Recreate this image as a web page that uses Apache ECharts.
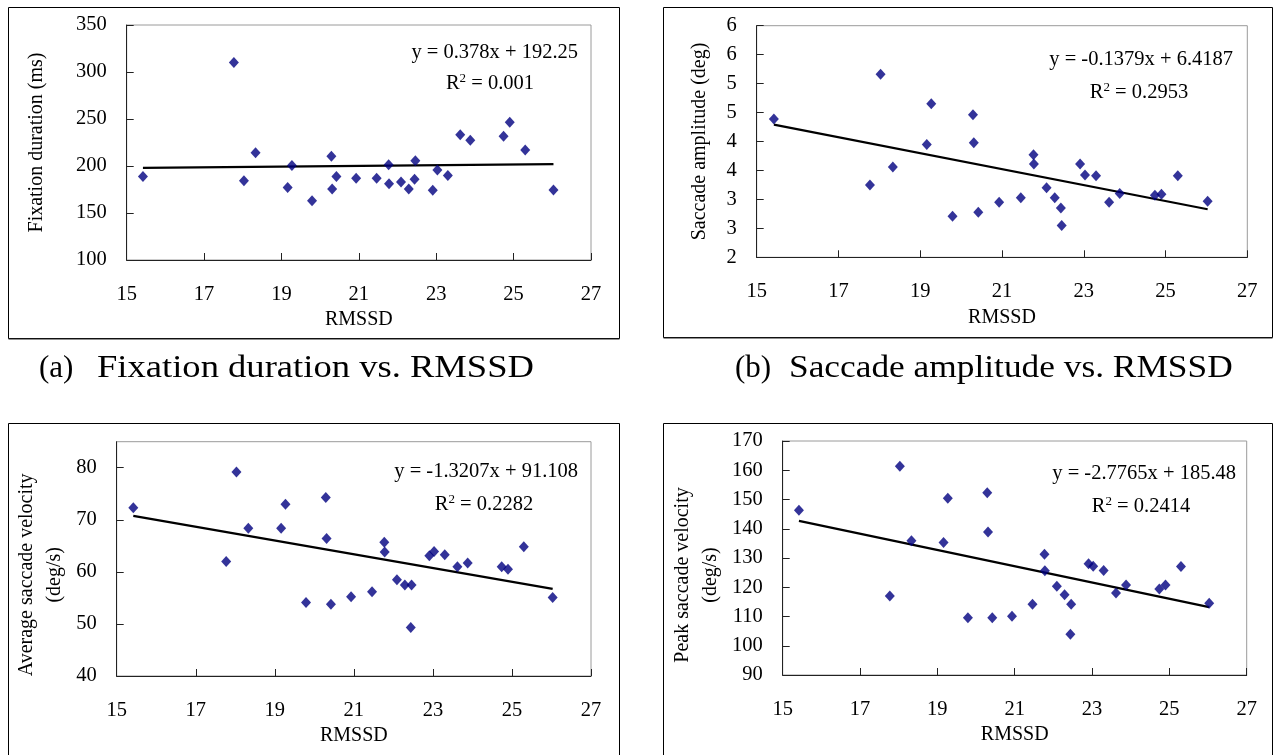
<!DOCTYPE html>
<html><head><meta charset="utf-8">
<script src="https://cdn.jsdelivr.net/npm/echarts@6/dist/echarts.min.js"></script>
<style>html,body{margin:0;padding:0;background:#fff}#c{width:1275px;height:755px}</style>
</head><body><div id="c"></div>
<script>
// ---- data ----
const rmssd = [15.42, 17.77, 18.03, 18.33, 19.16, 19.27, 19.79, 20.29, 20.31, 20.42, 20.93, 21.46, 21.77, 21.78, 22.09, 22.29, 22.44, 22.46, 22.91, 23.03, 23.30, 23.62, 23.88, 24.74, 24.90, 25.30, 26.03];
const fixationDuration = [188.7, 310.0, 184.4, 214.2, 177.0, 200.4, 163.1, 210.3, 175.5, 188.7, 186.9, 186.9, 201.4, 181.2, 183.0, 175.5, 185.8, 205.7, 174.1, 195.7, 190.0, 233.3, 227.3, 231.6, 246.5, 217.0, 174.5];
const saccadeAmplitude = [4.39, 3.25, 5.16, 3.56, 3.95, 4.65, 2.71, 4.46, 3.98, 2.78, 2.95, 3.03, 3.77, 3.61, 3.20, 3.03, 2.85, 2.55, 3.61, 3.42, 3.41, 2.95, 3.10, 3.07, 3.09, 3.41, 2.97];
const avgVelocity = [72.3, 62.0, 79.2, 68.4, 68.4, 73.0, 54.1, 74.3, 66.4, 53.8, 55.2, 56.2, 65.7, 63.8, 58.5, 57.5, 49.3, 57.5, 63.1, 63.9, 63.3, 61.0, 61.7, 61.0, 60.5, 64.8, 55.1];
const peakVelocity = [146.3, 117.0, 161.4, 135.9, 135.3, 150.4, 109.6, 152.3, 138.9, 109.6, 110.1, 114.2, 131.3, 125.6, 120.3, 117.4, 103.9, 114.2, 128.0, 127.2, 125.7, 118.0, 120.8, 119.4, 120.8, 127.1, 114.5];
const slopes = [0.378, -0.1379, -1.3207, -2.7765];
const intercepts = [192.25, 6.4187, 91.108, 185.48];
const equations = ['y = 0.378x + 192.25', 'y = -0.1379x + 6.4187', 'y = -1.3207x + 91.108', 'y = -2.7765x + 185.48'];
const r2Values = ['0.001', '0.2953', '0.2282', '0.2414'];
const yTitles = ['Fixation duration (ms)', 'Saccade amplitude (deg)', 'Average saccade velocity\n(deg/s)', 'Peak saccade velocity\n(deg/s)'];
const xTitle = 'RMSSD';
const captions = [['(a)', 'Fixation duration vs. RMSSD'], ['(b)', 'Saccade amplitude vs. RMSSD']];
const yMins = [100, 2, 40, 90];
const yMaxs = [350, 6, 85, 170];
const yIntervals = [50, 0.5, 10, 10];
const xMin = 15, xMax = 27, xInterval = 2;

// ---- layout ----
const FONT = '"Liberation Serif", "Times New Roman", serif';
const grids = [
  {left: 126.7, top: 25, width: 464.3, height: 235},
  {left: 756.7, top: 25.7, width: 490.6, height: 231.6},
  {left: 116.7, top: 441.7, width: 474.3, height: 234.3},
  {left: 782.7, top: 441, width: 464, height: 234}
];
const nameGaps = [76, 43, 48, 58];
const namePads = [[0,0,0,0],[0,0,0,0],[0,32,0,0],[0,34,0,0]];
const eqPos = [[578, 53, 490, 84], [1233, 60, 1139, 93], [578, 472, 484, 505], [1236, 474, 1141, 507]];
const boxes = [[8.5, 7.5, 611, 331], [663.5, 7.5, 609, 330], [8.5, 423.5, 611, 340], [663.5, 423.5, 609, 340]];

const ys = [fixationDuration, saccadeAmplitude, avgVelocity, peakVelocity];
const xLo = Math.min(...rmssd), xHi = Math.max(...rmssd);

const option = {
  animation: false,
  backgroundColor: '#fff',
  grid: grids.map(g => Object.assign({show: true, borderColor: '#9a9a9a', borderWidth: 1, containLabel: false}, g)),
  xAxis: grids.map((g, i) => ({
    type: 'value', gridIndex: i, min: xMin, max: xMax, interval: xInterval,
    name: xTitle, nameLocation: 'middle', nameGap: 50,
    nameTextStyle: {fontFamily: FONT, fontSize: 20, color: '#000'},
    axisLine: {show: true, onZero: false, lineStyle: {color: '#222', width: 1}},
    axisTick: {show: true, inside: true, length: 7, lineStyle: {color: '#222'}},
    axisLabel: {fontFamily: FONT, fontSize: 20.5, color: '#000', margin: 24},
    splitLine: {show: false}
  })),
  yAxis: grids.map((g, i) => ({
    type: 'value', gridIndex: i, min: yMins[i], max: yMaxs[i], interval: yIntervals[i],
    name: yTitles[i], nameLocation: 'middle', nameGap: nameGaps[i],
    nameTextStyle: {fontFamily: FONT, fontSize: 20, color: '#000', lineHeight: 28, padding: namePads[i]},
    axisLine: {show: true, onZero: false, lineStyle: {color: '#222', width: 1}},
    axisTick: {show: true, inside: true, length: 7, lineStyle: {color: '#222'}},
    axisLabel: {fontFamily: FONT, fontSize: 20.5, color: '#000', margin: 20,
      showMaxLabel: i === 2 ? false : true,
      formatter: v => i === 1 ? String(Math.round(v)) : String(v)},
    splitLine: {show: false}
  })),
  series: [],
  graphic: []
};

ys.forEach((arr, i) => {
  option.series.push({
    type: 'scatter', xAxisIndex: i, yAxisIndex: i,
    data: rmssd.map((x, k) => [x, arr[k]]),
    symbol: 'diamond', symbolSize: [10, 11],
    itemStyle: {color: '#000080'}, z: 3
  });
  option.series.push({
    type: 'line', xAxisIndex: i, yAxisIndex: i,
    data: [[xLo, slopes[i] * xLo + intercepts[i]], [xHi, slopes[i] * xHi + intercepts[i]]],
    symbol: 'none', lineStyle: {color: '#000', width: 2.2}, z: 2
  });
});

const g = option.graphic;
boxes.forEach(b => {
  g.push({type: 'rect', shape: {x: b[0], y: b[1], width: b[2], height: b[3]}, style: {fill: 'none', stroke: '#000', lineWidth: 1}, silent: true});
  g.push({type: 'line', shape: {x1: b[0], y1: b[1] + b[3] + 0.5, x2: b[0] + b[2], y2: b[1] + b[3] + 0.5}, style: {stroke: '#222', lineWidth: 1}, silent: true});
});
eqPos.forEach((p, i) => {
  g.push({type: 'text', x: p[0], y: p[1], style: {text: equations[i], fill: '#000', font: '20.5px ' + FONT, align: 'right', verticalAlign: 'middle'}, silent: true});
  g.push({type: 'text', x: p[2], y: p[3], style: {
    text: '{r|R}{s|2}{r| = ' + r2Values[i] + '}', align: 'center', verticalAlign: 'middle',
    rich: {r: {fontFamily: FONT, fontSize: 20.5, fill: '#000', color: '#000', lineHeight: 24},
           s: {fontFamily: FONT, fontSize: 13, fill: '#000', color: '#000', verticalAlign: 'top', lineHeight: 14}}
  }, silent: true});
});
const capX = [[39, 97], [735, 789]];
const capScale = [1.18, 1.14];
captions.forEach((c, i) => {
  g.push({type: 'text', x: capX[i][0], y: 369, style: {text: c[0], fill: '#000', font: '31px ' + FONT, verticalAlign: 'middle'}, silent: true});
  g.push({type: 'text', x: capX[i][1], y: 369, scaleX: capScale[i], style: {text: c[1], fill: '#000', font: '31px ' + FONT, verticalAlign: 'middle'}, silent: true});
});

const chart = echarts.init(document.getElementById('c'), null, {renderer: 'canvas'});
chart.setOption(option);
</script></body></html>
